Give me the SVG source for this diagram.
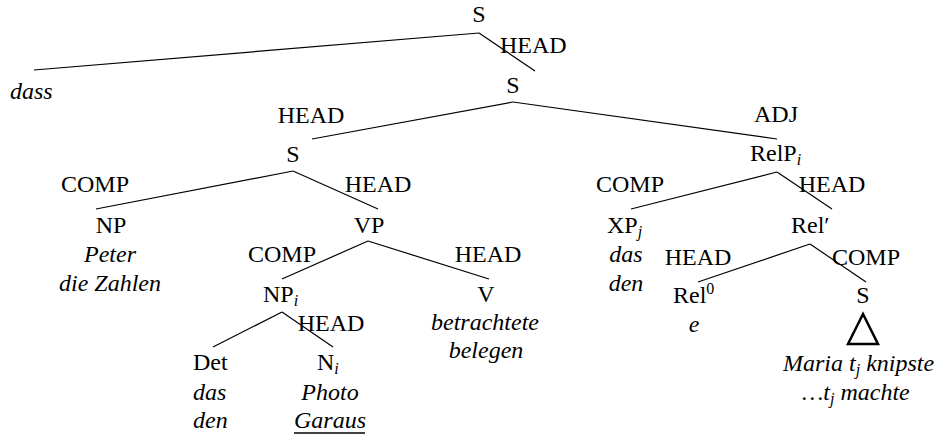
<svg xmlns="http://www.w3.org/2000/svg" width="945" height="438" viewBox="0 0 945 438">
<style>
svg text, svg tspan{font-family:"Liberation Serif","Times New Roman",serif !important}
text{font-size:24px;fill:#000}
.c{text-anchor:middle}
.it{font-style:italic}
.sub{font-size:16px;font-style:italic}
.sup{font-size:16px}
line{stroke:#000;stroke-width:1.2}
</style>
<rect width="945" height="438" fill="#fff"/>
<g id="connectors">
<line x1="479" y1="33" x2="34" y2="70"/>
<line x1="479" y1="33" x2="535" y2="71"/>
<line x1="513" y1="102" x2="312" y2="139"/>
<line x1="513" y1="102" x2="777" y2="139"/>
<line x1="293" y1="171" x2="96" y2="209"/>
<line x1="293" y1="171" x2="378" y2="209"/>
<line x1="368" y1="241" x2="282" y2="279"/>
<line x1="368" y1="241" x2="489" y2="279"/>
<line x1="282" y1="312" x2="213" y2="347"/>
<line x1="282" y1="312" x2="333" y2="347"/>
<line x1="777" y1="172" x2="631" y2="209"/>
<line x1="777" y1="172" x2="832" y2="209"/>
<line x1="810" y1="244" x2="698" y2="282"/>
<line x1="810" y1="244" x2="866" y2="282"/>
</g>
<g id="edge-labels">
<text font-family="Liberation Serif" x="500" y="53">HEAD</text>
<text font-family="Liberation Serif" class="c" x="311" y="123">HEAD</text>
<text font-family="Liberation Serif" class="c" x="776" y="122">ADJ</text>
<text font-family="Liberation Serif" class="c" x="95" y="192">COMP</text>
<text font-family="Liberation Serif" class="c" x="378" y="192">HEAD</text>
<text font-family="Liberation Serif" class="c" x="630" y="192">COMP</text>
<text font-family="Liberation Serif" class="c" x="832" y="192">HEAD</text>
<text font-family="Liberation Serif" class="c" x="282" y="262">COMP</text>
<text font-family="Liberation Serif" class="c" x="488" y="262">HEAD</text>
<text font-family="Liberation Serif" class="c" x="698" y="265">HEAD</text>
<text font-family="Liberation Serif" class="c" x="866" y="265">COMP</text>
<text font-family="Liberation Serif" class="c" x="331" y="331">HEAD</text>
</g>
<g id="n-S-top"><text font-family="Liberation Serif" class="c" x="479" y="22">S</text></g>
<g id="n-dass"><text font-family="Liberation Serif" class="it" x="10" y="99">dass</text></g>
<g id="n-S-2"><text font-family="Liberation Serif" class="c" x="513" y="93">S</text></g>
<g id="n-S-3"><text font-family="Liberation Serif" class="c" x="293" y="162">S</text></g>
<g id="n-RelP"><text font-family="Liberation Serif" x="750" y="161">RelP<tspan class="sub" dy="4">i</tspan></text></g>
<g id="n-NP">
<text font-family="Liberation Serif" class="c" x="111" y="233">NP</text>
<text font-family="Liberation Serif" class="c it" x="110" y="262">Peter</text>
<text font-family="Liberation Serif" class="c it" x="110" y="291">die Zahlen</text>
</g>
<g id="n-VP"><text font-family="Liberation Serif" class="c" x="369" y="233">VP</text></g>
<g id="n-NPi"><text font-family="Liberation Serif" x="263" y="302">NP<tspan class="sub" dy="4">i</tspan></text></g>
<g id="n-V">
<text font-family="Liberation Serif" class="c" x="486" y="302">V</text>
<text font-family="Liberation Serif" class="c it" x="485" y="330">betrachtete</text>
<text font-family="Liberation Serif" class="c it" x="486" y="358">belegen</text>
</g>
<g id="n-Det">
<text font-family="Liberation Serif" x="193" y="370">Det</text>
<text font-family="Liberation Serif" class="it" x="193" y="400">das</text>
<text font-family="Liberation Serif" class="it" x="193" y="428">den</text>
</g>
<g id="n-Ni">
<text font-family="Liberation Serif" x="317" y="370">N<tspan class="sub" dy="4">i</tspan></text>
<text font-family="Liberation Serif" class="c it" x="330" y="400">Photo</text>
<text font-family="Liberation Serif" class="c it" x="330" y="428">Garaus</text>
<line x1="294" y1="433" x2="365" y2="433" style="stroke-width:1.5"/>
</g>
<g id="n-XPj">
<text font-family="Liberation Serif" x="607" y="233">XP<tspan class="sub" dy="4">j</tspan></text>
<text font-family="Liberation Serif" class="c it" x="626" y="262">das</text>
<text font-family="Liberation Serif" class="c it" x="626" y="291">den</text>
</g>
<g id="n-Relbar"><text font-family="Liberation Serif" x="791" y="233">Rel′</text></g>
<g id="n-Rel0">
<text font-family="Liberation Serif" x="673" y="303">Rel<tspan class="sup" dy="-9">0</tspan></text>
<text font-family="Liberation Serif" class="c it" x="694" y="332">e</text>
</g>
<g id="n-S-rel">
<text font-family="Liberation Serif" class="c" x="863" y="303">S</text>
<polygon points="863,314 848,344 878,344" fill="none" stroke="#000" stroke-width="2.5" stroke-linejoin="miter"/>
<text font-family="Liberation Serif" class="it" x="783" y="371">Maria t<tspan class="sub" dy="4">j</tspan><tspan dy="-4"> knipste</tspan></text>
<text font-family="Liberation Serif" class="it" x="802" y="400">…t<tspan class="sub" dy="4">j</tspan><tspan dy="-4"> machte</tspan></text>
</g>
</svg>
